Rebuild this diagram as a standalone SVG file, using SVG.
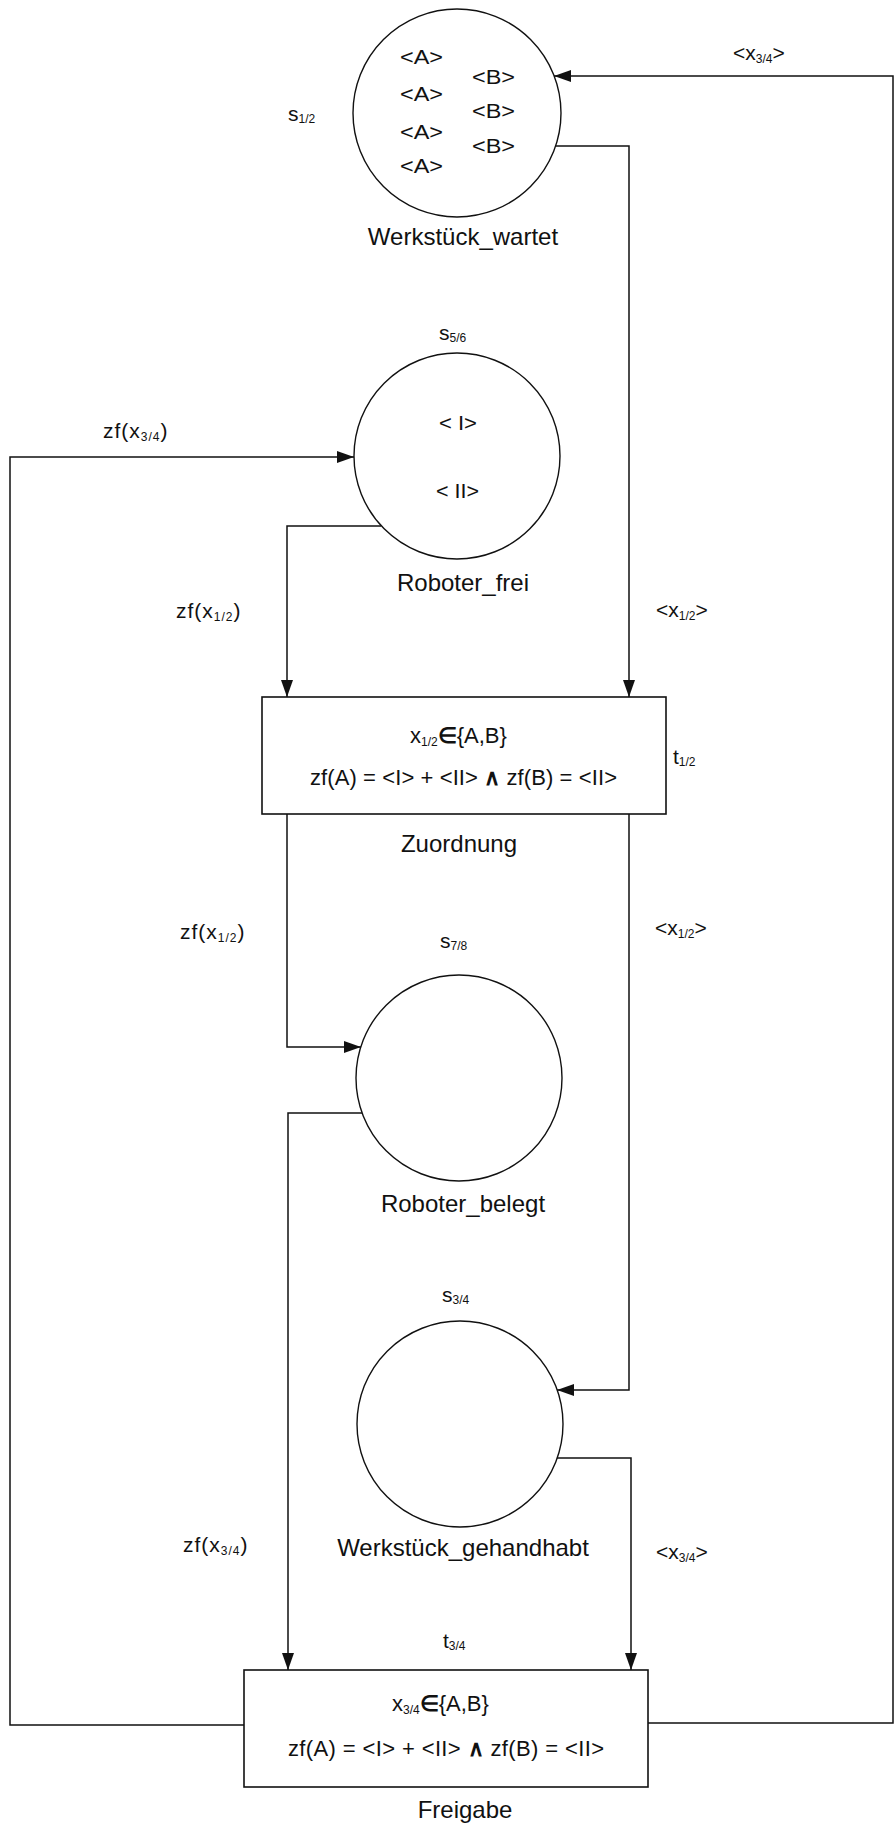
<svg xmlns="http://www.w3.org/2000/svg" width="894" height="1827" viewBox="0 0 894 1827">
<style>
text{font-family:"Liberation Sans",Arial,Helvetica,sans-serif;fill:#111}
.place{fill:#fff;stroke:#111;stroke-width:1.4}
.trans{fill:#fff;stroke:#111;stroke-width:1.6}
.arc{fill:none;stroke:#111;stroke-width:1.5}
.lbl{font-size:24px}
.tok{font-size:20px}
.al{font-size:21px}
.sub{font-size:12px}
.frm{font-size:22px}
.b{font-weight:bold}
</style>
<defs>
<marker id="ah" markerUnits="userSpaceOnUse" markerWidth="17" markerHeight="12" refX="17" refY="6" orient="auto">
<path d="M0,0 L17,6 L0,12 z" fill="#111"/>
</marker>
</defs>
<rect width="894" height="1827" fill="#fff"/>

<g id="connectors">
<path class="arc" d="M648,1723 H893 V76 H554" marker-end="url(#ah)"/>
<path class="arc" d="M556,146 H629 V697" marker-end="url(#ah)"/>
<path class="arc" d="M381,526 H287 V697" marker-end="url(#ah)"/>
<path class="arc" d="M244,1725 H10 V457 H354" marker-end="url(#ah)"/>
<path class="arc" d="M287,814 V1047 H361" marker-end="url(#ah)"/>
<path class="arc" d="M629,814 V1390 H557" marker-end="url(#ah)"/>
<path class="arc" d="M362,1113 H288 V1670" marker-end="url(#ah)"/>
<path class="arc" d="M557,1458 H631 V1670" marker-end="url(#ah)"/>
<text class="al" x="733" y="60">&lt;x<tspan class="sub" dy="3">3/4</tspan><tspan dy="-3">&gt;</tspan></text>
<text class="al" x="656" y="617">&lt;x<tspan class="sub" dy="3">1/2</tspan><tspan dy="-3">&gt;</tspan></text>
<text class="al" x="655" y="935">&lt;x<tspan class="sub" dy="3">1/2</tspan><tspan dy="-3">&gt;</tspan></text>
<text class="al" x="656" y="1559">&lt;x<tspan class="sub" dy="3">3/4</tspan><tspan dy="-3">&gt;</tspan></text>
<text class="al" x="103" y="438" letter-spacing="1">zf(x<tspan class="sub" dy="3">3/4</tspan><tspan dy="-3">)</tspan></text>
<text class="al" x="176" y="618" letter-spacing="1">zf(x<tspan class="sub" dy="3">1/2</tspan><tspan dy="-3">)</tspan></text>
<text class="al" x="180" y="939" letter-spacing="1">zf(x<tspan class="sub" dy="3">1/2</tspan><tspan dy="-3">)</tspan></text>
<text class="al" x="183" y="1552" letter-spacing="1">zf(x<tspan class="sub" dy="3">3/4</tspan><tspan dy="-3">)</tspan></text>
</g>

<g id="s12">
<circle class="place" cx="457" cy="113" r="104"/>
<text class="al" x="288" y="121">s<tspan class="sub" dy="2">1/2</tspan></text>
<text class="tok" x="400" y="64" textLength="43" lengthAdjust="spacingAndGlyphs">&lt;A&gt;</text>
<text class="tok" x="400" y="101" textLength="43" lengthAdjust="spacingAndGlyphs">&lt;A&gt;</text>
<text class="tok" x="400" y="139" textLength="43" lengthAdjust="spacingAndGlyphs">&lt;A&gt;</text>
<text class="tok" x="400" y="173" textLength="43" lengthAdjust="spacingAndGlyphs">&lt;A&gt;</text>
<text class="tok" x="472" y="84" textLength="43" lengthAdjust="spacingAndGlyphs">&lt;B&gt;</text>
<text class="tok" x="472" y="118" textLength="43" lengthAdjust="spacingAndGlyphs">&lt;B&gt;</text>
<text class="tok" x="472" y="153" textLength="43" lengthAdjust="spacingAndGlyphs">&lt;B&gt;</text>
<text class="lbl" x="463" y="245" text-anchor="middle">Werkstück_wartet</text>
</g>

<g id="s56">
<circle class="place" cx="457" cy="456" r="103"/>
<text class="al" x="439" y="340">s<tspan class="sub" dy="2">5/6</tspan></text>
<text class="tok" x="439" y="430" textLength="38" lengthAdjust="spacingAndGlyphs">&lt; I&gt;</text>
<text class="tok" x="436" y="498" textLength="43" lengthAdjust="spacingAndGlyphs">&lt; II&gt;</text>
<text class="lbl" x="463" y="591" text-anchor="middle">Roboter_frei</text>
</g>

<g id="t12">
<rect class="trans" x="262" y="697" width="404" height="117"/>
<text class="frm" x="410" y="743">x<tspan class="sub" dy="3">1/2</tspan><tspan class="b" dy="-3">∈</tspan>{A,B}</text>
<text class="frm" x="310" y="785" textLength="307" lengthAdjust="spacing">zf(A) = &lt;I&gt; + &lt;II&gt; <tspan class="b">∧</tspan> zf(B) = &lt;II&gt;</text>
<text class="al" x="673" y="764">t<tspan class="sub" dy="2">1/2</tspan></text>
<text class="lbl" x="459" y="852" text-anchor="middle">Zuordnung</text>
</g>

<g id="s78">
<circle class="place" cx="459" cy="1078" r="103"/>
<text class="al" x="440" y="948">s<tspan class="sub" dy="2">7/8</tspan></text>
<text class="lbl" x="463" y="1212" text-anchor="middle">Roboter_belegt</text>
</g>

<g id="s34">
<circle class="place" cx="460" cy="1424" r="103"/>
<text class="al" x="442" y="1302">s<tspan class="sub" dy="2">3/4</tspan></text>
<text class="lbl" x="463" y="1556" text-anchor="middle">Werkstück_gehandhabt</text>
</g>

<g id="t34">
<rect class="trans" x="244" y="1670" width="404" height="117"/>
<text class="al" x="443" y="1648">t<tspan class="sub" dy="2">3/4</tspan></text>
<text class="frm" x="392" y="1711">x<tspan class="sub" dy="3">3/4</tspan><tspan class="b" dy="-3">∈</tspan>{A,B}</text>
<text class="frm" x="288" y="1756" textLength="316" lengthAdjust="spacing">zf(A) = &lt;I&gt; + &lt;II&gt; <tspan class="b">∧</tspan> zf(B) = &lt;II&gt;</text>
<text class="lbl" x="465" y="1818" text-anchor="middle">Freigabe</text>
</g>
</svg>
